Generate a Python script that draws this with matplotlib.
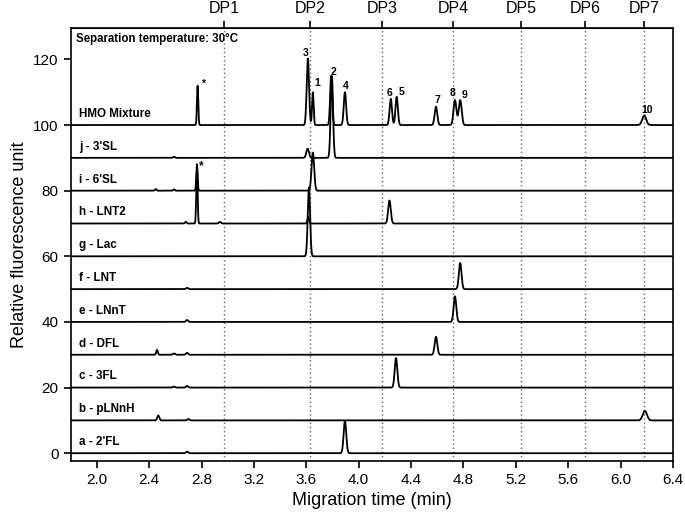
import numpy as np
import matplotlib.pyplot as plt

plt.rcParams['font.family'] = ['Liberation Sans', 'DejaVu Sans']

# trace names, bottom to top, and their vertical offsets
names = ["a - 2'FL", "b - pLNnH", "c - 3FL", "d - DFL", "e - LNnT", "f - LNT",
         "g - Lac", "h - LNT2", "i - 6'SL", "j - 3'SL", "HMO Mixture"]
offsets = [0, 10, 20, 30, 40, 50, 60, 70, 80, 90, 100]

# peaks per trace: (migration time, height, width)
peaks = [
    [(2.69, 0.5, 0.008), (3.895, 9.8, 0.010)],
    [(2.47, 1.5, 0.008), (2.70, 0.4, 0.008), (6.185, 2.9, 0.016)],
    [(2.59, 0.3, 0.008), (2.69, 0.5, 0.008), (4.285, 9.0, 0.010)],
    [(2.46, 1.5, 0.006), (2.59, 0.4, 0.008), (2.69, 0.6, 0.008), (4.59, 5.5, 0.010)],
    [(2.69, 0.6, 0.008), (4.735, 7.8, 0.010)],
    [(2.69, 0.4, 0.008), (4.775, 8.0, 0.010)],
    [(3.62, 21.0, 0.009)],
    [(2.68, 0.5, 0.006), (2.765, 18.0, 0.005), (2.94, 0.5, 0.008), (3.615, 2.0, 0.006),
     (4.235, 7.0, 0.010)],
    [(2.45, 0.5, 0.006), (2.59, 0.4, 0.006), (2.765, 8.0, 0.005), (3.65, 11.6, 0.010)],
    [(2.59, 0.3, 0.008), (3.61, 2.8, 0.010), (3.795, 25.0, 0.009)],
    [(2.77, 12.0, 0.005), (3.612, 20.3, 0.009), (3.65, 10.0, 0.006), (3.79, 15.0, 0.008),
     (3.895, 10.0, 0.009), (4.245, 8.0, 0.009), (4.29, 8.6, 0.009), (4.59, 5.6, 0.010),
     (4.735, 7.6, 0.011), (4.775, 7.6, 0.011), (6.18, 2.9, 0.015)],
]

# peak numbers on the HMO mixture trace
peak_ids = ['3', '1', '2', '4', '6', '5', '7', '8', '9', '10', '*']
peak_id_x = [3.593, 3.683, 3.805, 3.899, 4.236, 4.325, 4.60, 4.72, 4.81, 6.206, 2.81]
peak_id_y = [122.0, 112.8, 116.3, 111.8, 109.8, 110.0, 107.7, 109.8, 109.2, 104.7, 112.6]

dp_names = ['DP1', 'DP2', 'DP3', 'DP4', 'DP5', 'DP6', 'DP7']
dp_times = [2.97, 3.63, 4.18, 4.72, 5.24, 5.73, 6.18]

t = np.linspace(1.8, 6.4, 4000)

fig = plt.figure(figsize=(6.85, 5.23), dpi=100)
ax = fig.add_axes([0.103, 0.119, 0.8795, 0.827])

for x in dp_times:
    ax.axvline(x, color='#666666', lw=1.0, ls=(0, (1, 2)), zorder=1)

for name, off, pk in zip(names, offsets, peaks):
    y = np.full_like(t, off, dtype=float)
    for c, h, w in pk:
        y += h * np.exp(-0.5 * ((t - c) / w) ** 2)
    ax.plot(t, y, color='black', lw=1.3, zorder=2)
    ax.text(1.865, off + 3.4, name, fontsize=8.4, fontweight='bold', va='center', ha='left')

for s, x, y in zip(peak_ids, peak_id_x, peak_id_y):
    ax.text(x, y, s, fontsize=7.5, fontweight='bold', ha='center', va='center')
ax.text(2.795, 87.6, '*', fontsize=8.5, fontweight='bold', ha='center', va='center')

ax.text(1.84, 126.2, 'Separation temperature: 30°C', fontsize=8.3, fontweight='bold',
        ha='left', va='center')

ax.set_xlim(1.8, 6.4)
ax.set_ylim(-2.3, 129.5)
ax.set_xticks(np.arange(2.0, 6.41, 0.4))
ax.set_xticklabels(['%.1f' % v for v in np.arange(2.0, 6.41, 0.4)])
ax.set_yticks(range(0, 121, 20))
ax.tick_params(labelsize=11, length=5, width=1.2)
ax.set_xlabel('Migration time (min)', fontsize=13)
ax.set_ylabel('Relative fluorescence unit', fontsize=13)
for sp in ax.spines.values():
    sp.set_linewidth(1.2)

top = ax.secondary_xaxis('top')
top.set_ticks(dp_times, labels=dp_names)
top.tick_params(labelsize=11.5, length=5, width=1.2)

fig.savefig('out.png', dpi=100)
